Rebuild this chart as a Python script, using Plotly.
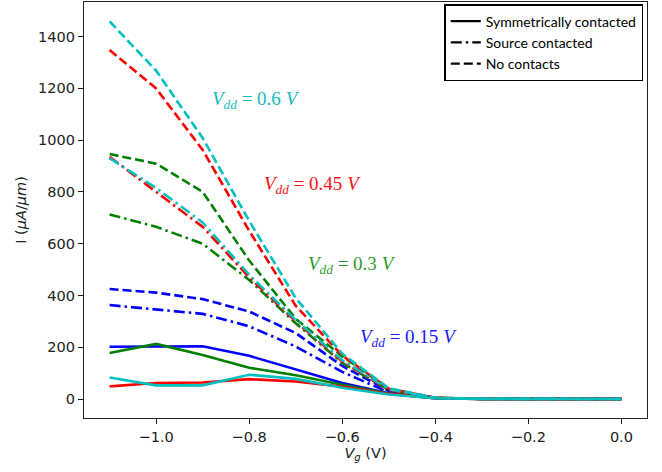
import plotly.graph_objects as go

# ---- data ----
vg = [-1.1, -1.0, -0.9, -0.8, -0.7, -0.6, -0.5, -0.4, -0.3, -0.2, -0.1, 0.0]

# Vdd = 0.15 V (blue)
blue_sym = [202, 204, 204, 167, 113, 62, 22, 3, 1, 1, 0.5, 0.5]
blue_src = [363, 347, 329, 281, 203, 105, 26, 3, 1, 1, 0.5, 0.5]
blue_noc = [425, 411, 386, 338, 255, 128, 32, 4, 1, 1, 0.5, 0.5]

# Vdd = 0.3 V (green)
green_sym = [178, 213, 170, 121, 92, 55, 21, 3, 1, 1, 0.5, 0.5]
green_src = [713, 665, 600, 460, 293, 140, 35, 4, 1, 1, 0.5, 0.5]
green_noc = [946, 909, 800, 535, 310, 165, 40, 5, 1, 1, 0.5, 0.5]

# Vdd = 0.45 V (red)
red_sym = [49, 62, 64, 77, 68, 48, 20, 3, 1, 1, 0.5, 0.5]
red_src = [935, 800, 665, 470, 300, 145, 36, 4, 1, 1, 0.5, 0.5]
red_noc = [1348, 1199, 962, 650, 360, 168, 40, 5, 1, 1, 0.5, 0.5]

# Vdd = 0.6 V (cyan)
cyan_sym = [83, 53, 53, 94, 78, 44, 18, 3, 1, 1, 0.5, 0.5]
cyan_src = [930, 815, 682, 480, 305, 150, 38, 4, 1, 1, 0.5, 0.5]
cyan_noc = [1458, 1268, 1008, 688, 390, 175, 42, 5, 1, 1, 0.5, 0.5]

legend_names = ["Symmetrically contacted", "Source contacted", "No contacts"]
vdd_labels = ["0.15", "0.3", "0.45", "0.6"]
label_x = [-0.457, -0.58, -0.663, -0.786]
label_y = [236, 517, 826, 1153]

x_ticks = [-1.0, -0.8, -0.6, -0.4, -0.2, 0.0]
y_ticks = [0, 200, 400, 600, 800, 1000, 1200, 1400]

# ---- styles ----
DASH = "9px,4px"
DASHDOT = "11px,4px,2.5px,4px"
LW = 2.6
colors = {"b": "#0000FF", "g": "#008000", "r": "#FF0000", "c": "#00BFBF"}
text_colors = ["#1a1aff", "#2e9a2e", "#ff1010", "#12bcbc"]

series = [
    ("b", blue_sym, blue_src, blue_noc),
    ("g", green_sym, green_src, green_noc),
    ("r", red_sym, red_src, red_noc),
    ("c", cyan_sym, cyan_src, cyan_noc),
]

fig = go.Figure()
for key, sym, src, noc in series:
    for vals, dash in ((sym, "solid"), (src, DASHDOT), (noc, DASH)):
        fig.add_trace(go.Scatter(
            x=vg, y=vals, mode="lines",
            line=dict(color=colors[key], width=LW, dash=dash),
            showlegend=False, hoverinfo="skip"))

for name, dash in zip(legend_names, ["solid", DASHDOT, DASH]):
    fig.add_trace(go.Scatter(
        x=[None], y=[None], mode="lines", name=name,
        line=dict(color="black", width=2.2, dash=dash)))

for lab, lx, ly, col in zip(vdd_labels, label_x, label_y, text_colors):
    fig.add_annotation(
        x=lx, y=ly, xref="x", yref="y", showarrow=False,
        text=f"<i>V</i><sub><i>dd</i></sub> = {lab} <i>V</i>",
        font=dict(family="Liberation Serif", size=19, color=col))

axis_common = dict(
    showgrid=False, zeroline=False, showline=True, linecolor="#222",
    linewidth=1.3, mirror=True, ticks="outside", ticklen=5, tickwidth=1.2,
    tickcolor="#222", automargin=False,
    tickfont=dict(family="DejaVu Sans", size=14.5, color="#222"),
)

fig.update_xaxes(
    range=[-1.155, 0.055], tickvals=x_ticks, tickformat=".1f",
    title=dict(text="<i>V<sub>g</sub></i> (V)", standoff=4,
               font=dict(family="DejaVu Sans", size=14.5, color="#222")),
    **axis_common)
fig.update_yaxes(
    range=[-73, 1533], tickvals=y_ticks,
    title=dict(text="I (<i>μA</i>/<i>μm</i>)", standoff=7,
               font=dict(family="DejaVu Sans", size=14.5, color="#222")),
    **axis_common)

fig.update_layout(
    width=662, height=472,
    margin=dict(l=84, r=15, t=2, b=54),
    paper_bgcolor="white", plot_bgcolor="white",
    legend=dict(
        x=0.9934, y=0.995, xanchor="right", yanchor="top",
        bgcolor="white", bordercolor="black", borderwidth=1.5,
        font=dict(family="Lato", size=14, color="black"),
    ),
)

fig.write_html(
    "out.html",
    config={"displayModeBar": False},
    post_script="document.body.style.margin='0';document.body.style.overflow='hidden';",
)
